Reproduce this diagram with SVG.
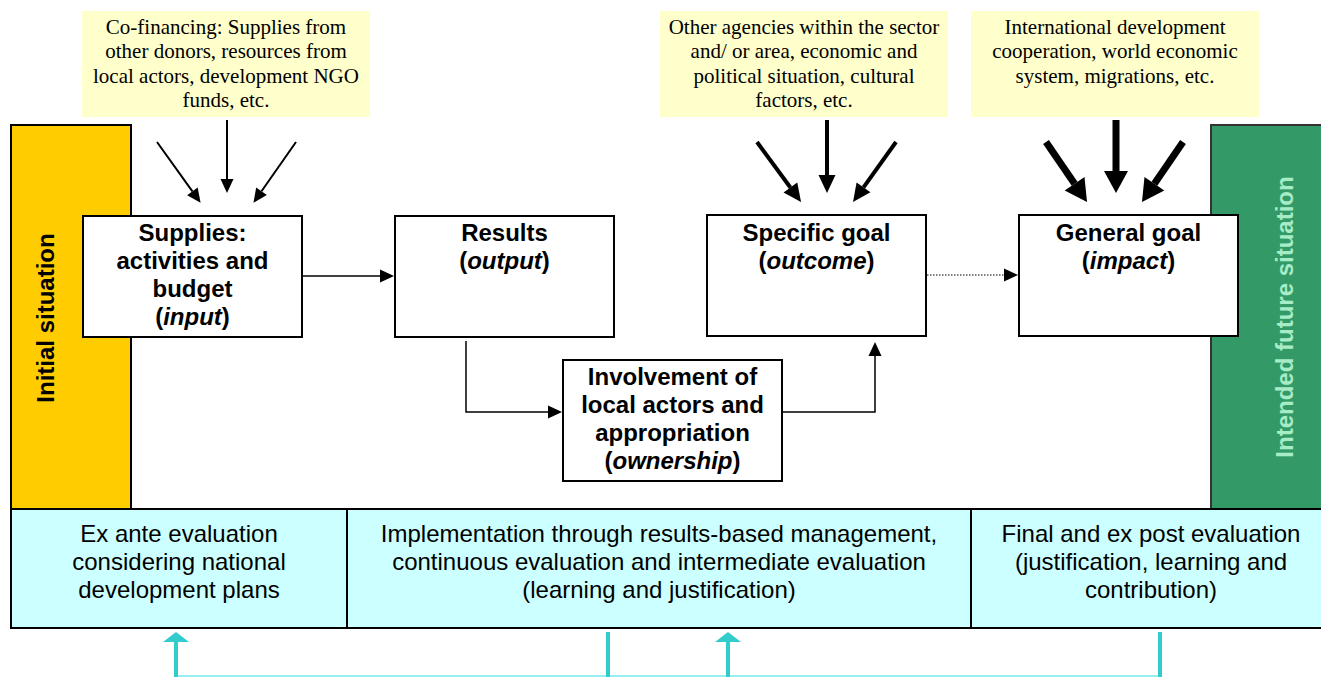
<svg xmlns="http://www.w3.org/2000/svg" width="1321" height="677" viewBox="0 0 1321 677">
<style>
.note{fill:#FFFFCC;stroke:none}
.nt{font-family:"Liberation Serif","Times New Roman",serif;font-size:21px;fill:#000;text-anchor:middle}
.box{fill:#fff;stroke:#000;stroke-width:2}
.bt{font-family:"Liberation Sans",Arial,sans-serif;font-size:24px;font-weight:bold;fill:#000;text-anchor:middle}
.band{fill:#CCFFFF;stroke:#000;stroke-width:2}
.bandt{font-family:"Liberation Sans",Arial,sans-serif;font-size:24px;fill:#000;text-anchor:middle}
.side{font-family:"Liberation Sans",Arial,sans-serif;font-size:24px;font-weight:bold;text-anchor:middle}
.c1{stroke:#000;stroke-width:2;fill:none}
.c2{stroke:#000;stroke-width:4;fill:none}
.c3{stroke:#000;stroke-width:7;fill:none}
.cy{stroke:#33CCCC;stroke-width:4;fill:none}
</style>
<defs>
<marker id="a1" markerUnits="userSpaceOnUse" orient="auto" refX="0" refY="0" markerWidth="20" markerHeight="20" overflow="visible"><path d="M0,-6.5 L14,0 L0,6.5 z" fill="#000"/></marker>
<marker id="a2" markerUnits="userSpaceOnUse" orient="auto" refX="0" refY="0" markerWidth="20" markerHeight="20" overflow="visible"><path d="M0,-8.5 L18,0 L0,8.5 z" fill="#000"/></marker>
<marker id="a3" markerUnits="userSpaceOnUse" orient="auto" refX="0" refY="0" markerWidth="30" markerHeight="30" overflow="visible"><path d="M0,-12 L22,0 L0,12 z" fill="#000"/></marker>
<marker id="ac" markerUnits="userSpaceOnUse" orient="auto" refX="0" refY="0" markerWidth="30" markerHeight="30" overflow="visible"><path d="M0,-13 L10,0 L0,13 z" fill="#33CCCC"/></marker>
</defs>

<g id="bg">
<rect x="11" y="125" width="120" height="384" fill="#FFCC00" stroke="#000" stroke-width="2"/>
<rect x="1211" y="125" width="112" height="384" fill="#339966" stroke="#333" stroke-width="2"/>
</g>

<g id="note-cofinancing">
<rect class="note" x="82" y="11" width="288" height="106"/>
<text class="nt" x="226" y="34">Co-financing: Supplies from</text>
<text class="nt" x="226" y="58">other donors, resources from</text>
<text class="nt" x="226" y="83">local actors, development NGO</text>
<text class="nt" x="226" y="107">funds, etc.</text>
</g>
<g id="note-agencies">
<rect class="note" x="660" y="11" width="288" height="106"/>
<text class="nt" x="804" y="34">Other agencies within the sector</text>
<text class="nt" x="804" y="58">and/ or area, economic and</text>
<text class="nt" x="804" y="83">political situation, cultural</text>
<text class="nt" x="804" y="107">factors, etc.</text>
</g>
<g id="note-international">
<rect class="note" x="971" y="11" width="288" height="106"/>
<text class="nt" x="1115" y="34">International development</text>
<text class="nt" x="1115" y="58">cooperation, world economic</text>
<text class="nt" x="1115" y="83">system, migrations, etc.</text>
</g>

<g id="initial-situation">
<text class="side" fill="#000" transform="translate(54,318) rotate(-90)">Initial situation</text>
</g>
<g id="intended-situation">
<text class="side" fill="#A6ECC6" transform="translate(1293,317) rotate(-90)">Intended future situation</text>
</g>

<g id="band">
<rect class="band" x="11" y="509" width="1312" height="119"/>
<line x1="347" y1="509" x2="347" y2="628" stroke="#000" stroke-width="2"/>
<line x1="971" y1="509" x2="971" y2="628" stroke="#000" stroke-width="2"/>
</g>
<g id="ex-ante">
<text class="bandt" x="179" y="542">Ex ante evaluation</text>
<text class="bandt" x="179" y="570">considering national</text>
<text class="bandt" x="179" y="598">development plans</text>
</g>
<g id="implementation">
<text class="bandt" x="659" y="542">Implementation through results-based management,</text>
<text class="bandt" x="659" y="570">continuous evaluation and intermediate evaluation</text>
<text class="bandt" x="659" y="598">(learning and justification)</text>
</g>
<g id="final">
<text class="bandt" x="1151" y="542">Final and ex post evaluation</text>
<text class="bandt" x="1151" y="570">(justification, learning and</text>
<text class="bandt" x="1151" y="598">contribution)</text>
</g>

<g id="connectors">
<line class="c1" x1="157" y1="142" x2="192.4" y2="191.4" marker-end="url(#a1)"/>
<line class="c1" x1="227" y1="120" x2="227" y2="179" marker-end="url(#a1)"/>
<line class="c1" x1="296" y1="142" x2="261.5" y2="191.3" marker-end="url(#a1)"/>
<line class="c2" x1="757" y1="142" x2="790.4" y2="187.5" marker-end="url(#a2)"/>
<line class="c2" x1="827" y1="120" x2="827" y2="175" marker-end="url(#a2)"/>
<line class="c2" x1="896" y1="142" x2="863.5" y2="187.4" marker-end="url(#a2)"/>
<line class="c3" x1="1046" y1="142" x2="1074.6" y2="183.8" marker-end="url(#a3)"/>
<line class="c3" x1="1116" y1="120" x2="1116" y2="171" marker-end="url(#a3)"/>
<line class="c3" x1="1183" y1="142" x2="1154.4" y2="183.8" marker-end="url(#a3)"/>
<line x1="300" y1="276" x2="380" y2="276" stroke="#000" stroke-width="1.5" marker-end="url(#a1)"/>
<line x1="927" y1="275" x2="1004" y2="275" stroke="#000" stroke-width="1.2" stroke-dasharray="1.5,1.5" marker-end="url(#a1)"/>
<path d="M466,341 V412 H548" stroke="#000" stroke-width="1.5" fill="none" marker-end="url(#a1)"/>
<path d="M782,412 H875 V356" stroke="#000" stroke-width="1.5" fill="none" marker-end="url(#a1)"/>
<line x1="176" y1="676" x2="1160" y2="676" stroke="#99EEEE" stroke-width="2"/>
<line class="cy" x1="176" y1="677" x2="176" y2="642" marker-end="url(#ac)"/>
<line class="cy" x1="728" y1="677" x2="728" y2="642" marker-end="url(#ac)"/>
<line class="cy" x1="608" y1="632" x2="608" y2="677"/>
<line class="cy" x1="1160" y1="632" x2="1160" y2="677"/>
</g>

<g id="supplies">
<rect class="box" x="83" y="216" width="219" height="121"/>
<text class="bt" x="192.5" y="241">Supplies:</text>
<text class="bt" x="192.5" y="269">activities and</text>
<text class="bt" x="192.5" y="297">budget</text>
<text class="bt" x="192.5" y="325">(<tspan font-style="italic">input</tspan>)</text>
</g>
<g id="results">
<rect class="box" x="395" y="216" width="219" height="121"/>
<text class="bt" x="504.5" y="241">Results</text>
<text class="bt" x="504.5" y="269">(<tspan font-style="italic">output</tspan>)</text>
</g>
<g id="specific-goal">
<rect class="box" x="707" y="215" width="219" height="121"/>
<text class="bt" x="816.5" y="241">Specific goal</text>
<text class="bt" x="816.5" y="269">(<tspan font-style="italic">outcome</tspan>)</text>
</g>
<g id="general-goal">
<rect class="box" x="1019" y="215" width="219" height="121"/>
<text class="bt" x="1128.5" y="241">General goal</text>
<text class="bt" x="1128.5" y="269">(<tspan font-style="italic">impact</tspan>)</text>
</g>
<g id="involvement">
<rect class="box" x="563" y="360" width="219" height="121"/>
<text class="bt" x="672.5" y="385">Involvement of</text>
<text class="bt" x="672.5" y="413">local actors and</text>
<text class="bt" x="672.5" y="441">appropriation</text>
<text class="bt" x="672.5" y="469">(<tspan font-style="italic">ownership</tspan>)</text>
</g>
</svg>
